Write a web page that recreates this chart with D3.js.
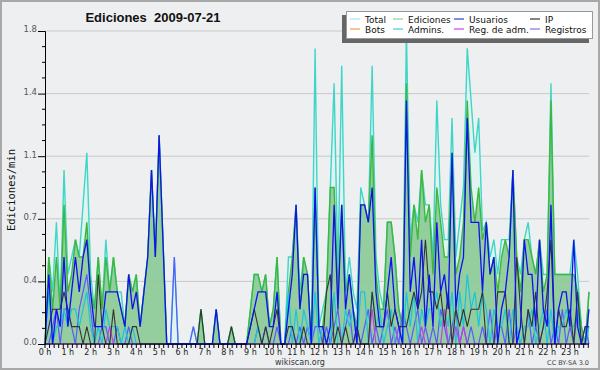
<!DOCTYPE html>
<html>
<head>
<meta charset="utf-8">
<script src="https://cdn.jsdelivr.net/npm/d3@7"></script>
<style>
  body { margin: 0; background: #fff; }
  svg { display: block; }
</style>
</head>
<body>
<svg id="chart" width="600" height="370"></svg>
<script>
// one value every 10 minutes, 144 per day (edits per minute)
const horas = d3.range(24)
const yTicks = [0, 0.36, 0.72, 1.08, 1.44, 1.8]

const total = [
  0, 0.5, 0.3, 0.7, 0.2, 1.0,   0.4, 0.5, 0.6, 0.5, 0.8, 1.1,
  0.4, 0.2, 0.5, 0.2, 0.6, 0.3,  0.5, 0.3, 0.3, 0.1, 0.4, 0.3,
  0.4, 0.1, 0.3, 0.5, 1.0, 0.5,  1.2, 0.6, 0, 0, 0.5, 0,
  0, 0, 0, 0.1, 0, 0.2,          0, 0, 0, 0.2, 0, 0,
  0, 0.1, 0, 0, 0, 0,            0.2, 0.4, 0.4, 0.3, 0.4, 0.1,
  0.2, 0.5, 0, 0, 0.5, 0.5,      0.8, 0.3, 0.5, 0.4, 0, 1.7,
  0.1, 0.2, 0.3, 0.9, 1.5, 0.4,  1.6, 0.3, 0.5, 0.3, 0.2, 0.9,
  0.8, 0.7, 1.6, 0.5, 0.3, 0.2,  0.7, 0.7, 0.5, 0.2, 0.1, 1.8,
  0.6, 0.8, 0.7, 1.0, 0.8, 0.8,  0.5, 1.4, 0.8, 0.6, 0.6, 1.3,
  0.5, 0.7, 0.9, 1.7, 1.4, 1.1,  1.3, 0.65, 0.7, 0.5, 0.6, 0.4,
  0.6, 0.6, 0.6, 1.0, 0.5, 0.4,  0.6, 0.7, 0.5, 0.4, 0.6, 0.4,
  0.4, 1.5, 0.4, 0.4, 0.4, 0.4,  0.4, 0.6, 0.4, 0.1, 0, 0.3
]
const ediciones = [
  0, 0.5, 0.2, 0.5, 0.2, 0.8,    0.3, 0.4, 0.6, 0.5, 0.5, 0.7,
  0.3, 0.2, 0.5, 0.2, 0.5, 0.3,  0.5, 0.3, 0.2, 0.1, 0.4, 0.3,
  0.4, 0.1, 0.3, 0.5, 1.0, 0.5,  1.2, 0.6, 0, 0, 0, 0,
  0, 0, 0, 0, 0, 0.2,            0, 0, 0, 0.2, 0, 0,
  0, 0.1, 0, 0, 0, 0,            0.2, 0.4, 0.4, 0.3, 0.4, 0.1,
  0.2, 0.5, 0, 0, 0.3, 0.5,      0.8, 0.2, 0.5, 0.4, 0, 0.9,
  0.1, 0.1, 0.3, 0.9, 0.9, 0.3,  0.8, 0.3, 0.4, 0.2, 0.1, 0.8,
  0.8, 0.7, 1.2, 0.4, 0.2, 0.2,  0.7, 0.7, 0.5, 0.2, 0.1, 1.5,
  0.5, 0.8, 0.6, 1.0, 0.7, 0.8,  0.4, 0.9, 0.7, 0.5, 0.5, 1.1,
  0.4, 0.5, 0.7, 1.4, 0.9, 0.7,  0.9, 0.6, 0.7, 0.4, 0.5, 0.3,
  0.5, 0.6, 0.5, 1.0, 0.5, 0.3,  0.6, 0.6, 0.5, 0.4, 0.6, 0.3,
  0.4, 1.4, 0.4, 0.4, 0.4, 0.4,  0.4, 0.4, 0.3, 0.1, 0, 0.3
]
const usuarios = [
  0, 0.4, 0, 0.2, 0.1, 0.5,      0.1, 0.3, 0.5, 0.3, 0.5, 0.6,
  0.3, 0.1, 0.1, 0.1, 0.3, 0.3,  0.3, 0.3, 0.2, 0.1, 0.4, 0.2,
  0.3, 0.1, 0.3, 0.5, 1.0, 0.5,  1.2, 0.6, 0, 0, 0, 0,
  0, 0, 0, 0, 0, 0,              0, 0, 0, 0.2, 0, 0,
  0, 0, 0, 0, 0, 0,              0.1, 0.2, 0.3, 0.3, 0.3, 0.1,
  0.1, 0.3, 0, 0, 0.2, 0.4,      0.8, 0.2, 0.4, 0.4, 0, 0.9,
  0.1, 0.1, 0, 0.1, 0.8, 0.2,    0.8, 0.2, 0.4, 0.2, 0, 0.8,
  0.8, 0.7, 0.9, 0.3, 0.1, 0.1,  0.3, 0.5, 0.2, 0.1, 0, 1.4,
  0.3, 0.5, 0.2, 0.6, 0.1, 0.4,  0.1, 0.7, 0.3, 0.4, 0.2, 1.1,
  0.2, 0.4, 0.5, 1.3, 0.7, 0.7,  0.7, 0.3, 0.7, 0.4, 0.5, 0,
  0.2, 0.3, 0.5, 1.0, 0, 0.1,    0.6, 0.4, 0.4, 0.1, 0.6, 0.2,
  0.1, 0.8, 0, 0.2, 0.3, 0.3,    0.1, 0.6, 0.1, 0, 0, 0.2
]
const ip = [
  0, 0.1, 0.2, 0.2, 0.2, 0.3,    0.2, 0.1, 0.1, 0.1, 0, 0.1,
  0, 0, 0.4, 0.1, 0, 0,          0.2, 0, 0, 0, 0, 0.1,
  0.1, 0, 0, 0, 0, 0,            0, 0, 0, 0, 0, 0,
  0, 0, 0, 0, 0, 0.2,            0, 0, 0, 0, 0, 0,
  0, 0.1, 0, 0, 0, 0,            0.1, 0.2, 0.1, 0, 0.1, 0,
  0.1, 0.2, 0, 0, 0.1, 0.1,      0, 0, 0.1, 0, 0, 0,
  0, 0, 0.3, 0.4, 0, 0.1,        0, 0.1, 0, 0, 0.1, 0,
  0, 0, 0.3, 0.1, 0.1, 0.1,      0.3, 0.1, 0.2, 0.1, 0.1, 0.1,
  0.2, 0.3, 0.2, 0.3, 0.6, 0.3,  0.3, 0.2, 0.3, 0.1, 0.3, 0,
  0.2, 0.1, 0.2, 0.1, 0.2, 0.2,  0.2, 0.3, 0, 0, 0, 0.3,
  0.3, 0.3, 0, 0, 0.5, 0.2,      0, 0.2, 0.1, 0.3, 0, 0.1,
  0.3, 0.6, 0, 0.2, 0.1, 0.1,    0.2, 0, 0.3, 0, 0.1, 0.1
]
const admins = [
  0, 0.3, 0, 0.1, 0.1, 0.2,      0.1, 0.2, 0.2, 0.1, 0.2, 0.3,
  0.1, 0, 0.1, 0, 0.2, 0.1,      0.1, 0.1, 0, 0.1, 0, 0.1,
  0, 0, 0, 0, 0, 0,              0, 0, 0, 0, 0, 0,
  0, 0, 0, 0, 0, 0,              0, 0, 0, 0, 0, 0,
  0, 0, 0, 0, 0, 0,              0, 0, 0.1, 0, 0, 0,
  0, 0, 0, 0, 0.3, 0,            0.2, 0, 0.2, 0.1, 0, 0.3,
  0, 0.1, 0, 0, 0.3, 0,          0, 0.2, 0.1, 0.2, 0, 0.3,
  0.3, 0, 0.3, 0.1, 0.2, 0,      0.1, 0.2, 0, 0.1, 0, 0.3,
  0.1, 0.3, 0, 0.2, 0.1, 0.2,    0.2, 0.3, 0.1, 0.2, 0.1, 0.3,
  0, 0.3, 0.1, 0.4, 0.2, 0.3,    0.1, 0.3, 0.2, 0, 0.2, 0.1,
  0.1, 0.2, 0, 0.2, 0.1, 0,      0.1, 0.1, 0.2, 0, 0.1, 0.2,
  0, 0.2, 0, 0.1, 0.1, 0.2,      0.1, 0.1, 0.2, 0, 0, 0.1
]
const regAdm = [
  0, 0, 0, 0, 0, 0,  0, 0, 0, 0, 0, 0,
  0, 0, 0, 0, 0, 0.1,  0, 0, 0, 0, 0, 0,
  0, 0, 0, 0, 0, 0,  0, 0, 0, 0, 0, 0,
  0, 0, 0, 0, 0, 0,  0, 0, 0, 0, 0, 0,
  0, 0, 0, 0, 0, 0,  0, 0, 0, 0, 0, 0,
  0, 0, 0, 0, 0, 0,  0, 0, 0, 0, 0, 0,
  0, 0, 0, 0, 0, 0,  0, 0, 0, 0, 0, 0,
  0, 0, 0.2, 0, 0, 0,  0, 0, 0, 0.1, 0, 0,
  0, 0, 0, 0.1, 0, 0,  0, 0, 0, 0.2, 0, 0,
  0.1, 0, 0.1, 0, 0, 0,  0, 0, 0, 0, 0, 0,
  0, 0, 0, 0, 0, 0,  0, 0, 0, 0, 0, 0,
  0, 0, 0, 0, 0, 0,  0, 0, 0, 0, 0, 0
]
const registros = [
  0, 0, 0.1, 0.2, 0, 0.2,        0.2, 0.1, 0, 0.2, 0.3, 0.4,
  0.2, 0, 0, 0.1, 0.1, 0,        0, 0.1, 0, 0, 0.1, 0,
  0, 0, 0, 0, 0, 0,              0, 0, 0, 0, 0.5, 0,
  0, 0, 0, 0.1, 0, 0,            0, 0, 0, 0, 0, 0,
  0, 0, 0, 0, 0, 0,              0, 0, 0.1, 0, 0.1, 0,
  0, 0.1, 0, 0, 0, 0.1,          0, 0.1, 0, 0.1, 0, 0.1,
  0.1, 0, 0.1, 0, 0.1, 0.2,      0, 0.1, 0.2, 0, 0.1, 0,
  0.1, 0.2, 0, 0.1, 0, 0.1,      0.2, 0, 0.1, 0, 0.2, 0.1,
  0, 0.1, 0.2, 0, 0.1, 0,        0.1, 0, 0.2, 0.1, 0, 0.1,
  0.2, 0, 0.1, 0, 0.1, 0,        0, 0.1, 0, 0.2, 0, 0.1,
  0.1, 0, 0.2, 0, 0.1, 0,        0, 0.2, 0, 0.1, 0, 0.1,
  0.2, 0, 0.1, 0, 0.2, 0,        0.1, 0, 0.2, 0, 0.1, 0
]

const leyenda = [
  ['Total', '#a6e6e2'], ['Ediciones', '#8fcf8f'], ['Usuarios', '#3a3ad0'], ['IP', '#333'],
  ['Bots', '#f4a040'], ['Admins.', '#44ccdd'], ['Reg. de adm.', '#cc44dd'], ['Registros', '#7777ee']
]

const W = 600, H = 370
const svg = d3.select('#chart')

svg.append('rect').attr('x', 1).attr('y', 1).attr('width', W - 2).attr('height', H - 2)
  .attr('fill', '#eeeff0').attr('stroke', '#a8a8a8').attr('stroke-width', 2)

const x = d3.scaleLinear().domain([0, 143]).range([45, 589])
const y = d3.scaleLinear().domain([0, 1.8]).range([344, 31])

// grid
svg.append('g').selectAll('line').data(yTicks.slice(1)).join('line')
  .attr('x1', 45).attr('x2', 589)
  .attr('y1', d => y(d)).attr('y2', d => y(d))
  .attr('stroke', '#c9c9c9').attr('stroke-width', 1)

const area = d3.area().x((d, i) => x(i)).y0(y(0)).y1(d => y(d))
const line = d3.line().x((d, i) => x(i)).y(d => y(d))

svg.append('path').datum(total).attr('d', area).attr('fill', '#dcf3f1').attr('fill-opacity', 0.85)
svg.append('path').datum(ediciones).attr('d', area).attr('fill', '#3aa03a').attr('fill-opacity', 0.45)

function drawLine(data, color, w) {
  svg.append('path').datum(data).attr('d', line)
    .attr('fill', 'none').attr('stroke', color).attr('stroke-width', w)
}
drawLine(total, '#3fd6c8', 1.4)
drawLine(ediciones, '#3cb83c', 1.4)
drawLine(registros, '#5a5aff', 1.2)
drawLine(admins, '#19c6dc', 1.2)
drawLine(regAdm, '#c040e8', 1.2)
drawLine(ip, '#333', 1.1)
drawLine(usuarios, '#1010f0', 1.3)

// y axis
const yAxis = d3.axisLeft(y).tickValues(yTicks).tickFormat(d3.format('.1f')).tickSize(7)
const gy = svg.append('g').attr('transform', 'translate(45,0)').call(yAxis)
gy.select('.domain').attr('stroke', '#000')
gy.selectAll('text').attr('font-family', 'DejaVu Sans, sans-serif').attr('font-size', 8.5)
  .attr('fill', '#555').attr('dx', 2).attr('dy', '0.1em')
const minor = d3.range(0, 1.8001, 0.09).filter((d, i) => i % 4 !== 0)
svg.append('g').selectAll('line').data(minor).join('line')
  .attr('x1', 42).attr('x2', 45).attr('y1', d => y(d)).attr('y2', d => y(d)).attr('stroke', '#000')

// x axis (in 10 min units)
const gx = svg.append('g').attr('transform', 'translate(0,344)')
gx.append('line').attr('x1', 45).attr('x2', 589).attr('stroke', '#000')
gx.selectAll('line.m').data(d3.range(0, 143.01, 1.2)).join('line').attr('class', 'm')
  .attr('x1', d => x(d)).attr('x2', d => x(d)).attr('y1', 0).attr('y2', 4).attr('stroke', '#000')
gx.selectAll('text').data(horas).join('text')
  .attr('x', d => x(d * 6)).attr('y', 11).attr('text-anchor', 'middle')
  .attr('font-family', 'DejaVu Sans, sans-serif').attr('font-size', 8).attr('fill', '#222')
  .text(d => d + ' h')

// titles
svg.append('text').attr('x', 153).attr('y', 22).attr('text-anchor', 'middle')
  .attr('font-family', 'Liberation Sans, Arial, sans-serif').attr('font-weight', 'bold').attr('font-size', 13)
  .attr('fill', '#111').attr('xml:space', 'preserve').text('Ediciones  2009-07-21')
svg.append('text').attr('transform', 'translate(15,190) rotate(-90)').attr('text-anchor', 'middle')
  .attr('font-family', 'DejaVu Sans Mono, monospace').attr('font-size', 10.5).attr('fill', '#111')
  .text('Ediciones/min')
svg.append('text').attr('x', 300).attr('y', 365).attr('text-anchor', 'middle')
  .attr('font-family', 'DejaVu Sans, sans-serif').attr('font-size', 8).attr('fill', '#333').text('wikiscan.org')
svg.append('text').attr('x', 589).attr('y', 365).attr('text-anchor', 'end')
  .attr('font-family', 'DejaVu Sans, sans-serif').attr('font-size', 6.5).attr('fill', '#444').text('CC BY-SA 3.0')

// legend
const lg = svg.append('g')
lg.append('rect').attr('x', 342).attr('y', 15).attr('width', 247).attr('height', 28).attr('fill', '#666')
lg.append('rect').attr('x', 346.5).attr('y', 11.5).attr('width', 246).attr('height', 27)
  .attr('fill', '#fff').attr('stroke', '#999')
const colX = [350, 393, 454, 530]
leyenda.forEach((d, i) => {
  const cx = colX[i % 4], cy = i < 4 ? 19 : 29
  lg.append('line').attr('x1', cx).attr('x2', cx + 10).attr('y1', cy).attr('y2', cy)
    .attr('stroke', d[1]).attr('stroke-width', 1.2)
  lg.append('text').attr('x', cx + 15).attr('y', cy + 3.5)
    .attr('font-family', 'DejaVu Sans, sans-serif').attr('font-size', 9).attr('fill', '#111').text(d[0])
})
</script>
</body>
</html>
